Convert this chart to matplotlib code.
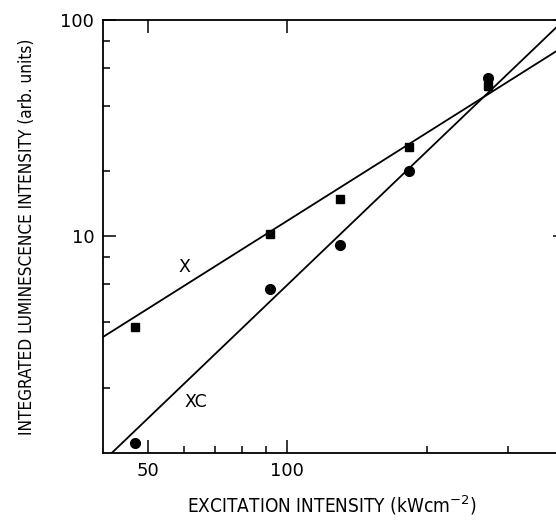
import matplotlib
matplotlib.use("Agg")
import matplotlib.pyplot as plt
import numpy as np
from matplotlib.ticker import FixedLocator, NullFormatter, FixedFormatter

# ---- data ----
excitation = [47, 92, 130, 183, 272]            # kW cm^-2
x_intensity = [3.8, 10.2, 14.9, 26.0, 49.6]     # squares (X)
xc_intensity = [1.11, 5.7, 9.1, 20.1, 54.2]     # circles (XC)

# power-law fit lines drawn in the reference: I = A * P**k
x_fit_exponent = 1.35
x_fit_anchor = (40.0, 3.42)
xc_fit_exponent = 2.05
xc_fit_anchor = (41.9, 1.0)

x_major = [50, 100]
x_major_labels = ["50", "100"]
x_minor = [60, 70, 80, 90, 200, 300]
y_major = [10, 100]
y_major_labels = ["10", "100"]
y_minor = [2, 4, 6, 8, 20, 40, 60, 80]

xlim = (40, 400)
ylim = (1, 100)

W, H = 556, 520
fig = plt.figure(figsize=(W / 100, H / 100), dpi=100)
left, right, top, bottom = 102.7, 566.0, 20.0, 452.7
ax = fig.add_axes([left / W, 1 - bottom / H, (right - left) / W, (bottom - top) / H])
ax.set_xscale("log")
ax.set_yscale("log")
ax.set_xlim(*xlim)
ax.set_ylim(*ylim)

px = np.geomspace(xlim[0], xlim[1], 200)
yx = x_fit_anchor[1] * (px / x_fit_anchor[0]) ** x_fit_exponent
yxc = xc_fit_anchor[1] * (px / xc_fit_anchor[0]) ** xc_fit_exponent
ax.plot(px, yx, color="black", lw=1.3)
ax.plot(px, yxc, color="black", lw=1.3)

ax.plot(excitation, x_intensity, linestyle="none", marker="s", ms=5.3,
        color="black", clip_on=False)
ax.plot(excitation, xc_intensity, linestyle="none", marker="o", ms=7.0,
        color="black", clip_on=False)

ax.text(60.1, 7.22, "X", fontsize=12.5, ha="center", va="center",
        family="DejaVu Sans")
ax.text(63.5, 1.71, "XC", fontsize=12.5, ha="center", va="center",
        family="DejaVu Sans")

ax.xaxis.set_major_locator(FixedLocator(x_major))
ax.xaxis.set_major_formatter(FixedFormatter(x_major_labels))
ax.xaxis.set_minor_locator(FixedLocator(x_minor))
ax.xaxis.set_minor_formatter(NullFormatter())
ax.yaxis.set_major_locator(FixedLocator(y_major))
ax.yaxis.set_major_formatter(FixedFormatter(y_major_labels))
ax.yaxis.set_minor_locator(FixedLocator(y_minor))
ax.yaxis.set_minor_formatter(NullFormatter())

ax.tick_params(which="major", direction="in", length=9.5, width=1.1,
               top=True, right=True, labelsize=13, pad=6)
ax.tick_params(which="minor", direction="in", length=5, width=1.1,
               top=False, right=True)
ax.tick_params(axis="x", which="major", pad=7)
for lab in ax.get_xticklabels() + ax.get_yticklabels():
    lab.set_family("DejaVu Sans")

for s in ax.spines.values():
    s.set_linewidth(1.3)

xl = fig.text(331.7 / W, 1 - 505 / H, "EXCITATION INTENSITY (kWcm$^{-2}$)",
              ha="center", va="center", fontsize=16, family="DejaVu Sans",
              fontstretch="condensed")
yl = fig.text(26.6 / W, 1 - 236.7 / H, "INTEGRATED LUMINESCENCE INTENSITY (arb. units)",
              ha="center", va="center", rotation=90, fontsize=15,
              family="DejaVu Sans", fontstretch="condensed")

# size the axis titles so their lengths match the reference
renderer = fig.canvas.get_renderer()
for t, target, attr in ((xl, 290.0, "width"), (yl, 397.0, "height")):
    for _ in range(3):
        bb = t.get_window_extent(renderer)
        cur = getattr(bb, attr)
        t.set_fontsize(t.get_fontsize() * target / cur)

fig.savefig("out.png", dpi=100)
